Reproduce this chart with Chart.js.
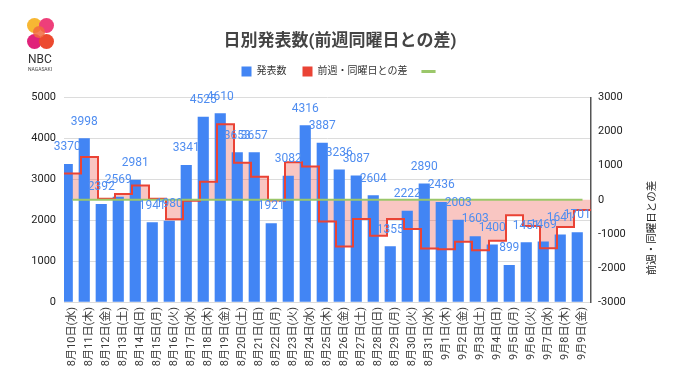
<!DOCTYPE html>
<html>
<head>
<meta charset="utf-8">
<script src="https://cdn.jsdelivr.net/npm/chart.js@4.4.1/dist/chart.umd.min.js"></script>
<style>
  html, body { margin: 0; padding: 0; background: #fff; }
  #wrap { position: relative; width: 680px; height: 382px; }
  canvas { position: absolute; left: 0; top: 0; }
  .logo { position: absolute; left: 25px; top: 17px; width: 30px; height: 58px; font-family: Roboto, "Liberation Sans", sans-serif; }
  .c { position: absolute; width: 15px; height: 15px; border-radius: 50%; }
  .logo .t1 { position: absolute; left: -1px; top: 36px; width: 32px; text-align: center; font-size: 12px; color: #333; line-height: 12px; }
  .logo .t2 { position: absolute; left: -3px; top: 49px; width: 36px; text-align: center; font-size: 5px; color: #444; line-height: 6px; }
</style>
</head>
<body>
<div id="wrap">
  <canvas id="chart" width="680" height="382"></canvas>
  <div class="logo">
    <div class="c" style="left:2px;top:1px;background:#f7b733;"></div>
    <div class="c" style="left:14px;top:1px;background:#ee3f7a;"></div>
    <div class="c" style="left:2px;top:17px;background:#e0237a;"></div>
    <div class="c" style="left:14px;top:17px;background:#ec4a2f;"></div>
    <div class="c" style="left:8px;top:9px;width:12px;height:12px;background:#f26a3d;opacity:0.85;"></div>
    <div class="t1">NBC</div>
    <div class="t2">NAGASAKI</div>
  </div>
</div>
<script>
const categories = ['8月10日(水)','8月11日(木)','8月12日(金)','8月13日(土)','8月14日(日)','8月15日(月)','8月16日(火)',
  '8月17日(水)','8月18日(木)','8月19日(金)','8月20日(土)','8月21日(日)','8月22日(月)','8月23日(火)',
  '8月24日(水)','8月25日(木)','8月26日(金)','8月27日(土)','8月28日(日)','8月29日(月)','8月30日(火)',
  '8月31日(水)','9月1日(木)','9月2日(金)','9月3日(土)','9月4日(日)','9月5日(月)','9月6日(火)',
  '9月7日(水)','9月8日(木)','9月9日(金)'];
const counts = [3370,3998,2392,2569,2981,1941,1980,3341,4525,4610,3653,3657,1921,3082,4316,3887,
  3236,3087,2604,1355,2222,2890,2436,2003,1603,1400,899,1451,1469,1641,1701];
const diffs = [770,1260,30,170,420,30,-570,-29,527,2218,1084,676,-20,1102,975,-638,
  -1374,-566,-1053,-566,-860,-1426,-1451,-1233,-1484,-1204,-456,-771,-1421,-795,-302];
const zeroLine = [0,0,0,0,0,0,0,0,0,0,0,0,0,0,0,0,0,0,0,0,0,0,0,0,0,0,0,0,0,0,0];
const leftTicks = [0,1000,2000,3000,4000,5000];
const rightTicks = [-3000,-2000,-1000,0,1000,2000,3000];

const seriesNames = ['発表数', '前週・同曜日との差'];
const titleText = '日別発表数(前週同曜日との差)';
const rightTitle = '前週・同曜日との差';

const BLUE = '#4285F4', RED = '#EA4335', GREEN = '#9BC76A';
const FONT = 'Roboto, "Noto Sans CJK JP", sans-serif';

// stepped line points (edges extend to the plot boundaries)
const diffPoints = [{x: -0.5, y: diffs[0]}]
  .concat(diffs.map((v, i) => ({x: i, y: v})))
  .concat([{x: diffs.length - 0.5, y: diffs[diffs.length - 1]}]);

const barLabels = {
  id: 'barLabels',
  afterDatasetsDraw(chart) {
    const ctx = chart.ctx;
    const meta = chart.getDatasetMeta(0);
    ctx.save();
    ctx.font = '12px ' + FONT;
    ctx.fillStyle = '#4F8DF0';
    ctx.textAlign = 'center';
    ctx.textBaseline = 'middle';
    meta.data.forEach((el, i) => {
      ctx.fillText(String(counts[i]), el.x, el.y - 17);
    });
    ctx.restore();
  }
};

const rightAxisTitle = {
  id: 'rightAxisTitle',
  afterDraw(chart) {
    const ctx = chart.ctx;
    ctx.save();
    ctx.translate(652, 228);
    ctx.rotate(-Math.PI / 2);
    ctx.font = '10.5px ' + FONT;
    ctx.fillStyle = '#222';
    ctx.textAlign = 'center';
    ctx.textBaseline = 'middle';
    ctx.fillText(rightTitle, 0, 0);
    ctx.restore();
  }
};

new Chart(document.getElementById('chart'), {
  type: 'bar',
  data: {
    labels: categories,
    datasets: [
      {
        type: 'bar', label: seriesNames[0], data: counts, backgroundColor: BLUE,
        yAxisID: 'y', xAxisID: 'x', order: 3,
        barThickness: 10.5
      },
      {
        // fill area only (drawn before the bars)
        type: 'line', label: 'fill', data: diffPoints, borderWidth: 0, borderColor: 'rgba(0,0,0,0)',
        backgroundColor: 'rgba(234,67,53,0.3)', fill: 'origin', stepped: 'middle',
        pointRadius: 0, yAxisID: 'y2', xAxisID: 'x2', order: 4
      },
      {
        type: 'line', label: seriesNames[1], data: diffPoints, borderColor: RED, borderWidth: 2,
        fill: false, stepped: 'middle',
        pointRadius: 0, yAxisID: 'y2', xAxisID: 'x2', order: 2
      },
      {
        type: 'line', label: '', data: zeroLine, borderColor: GREEN, borderWidth: 2,
        pointRadius: 0, fill: false, yAxisID: 'y2', xAxisID: 'x', order: 1
      }
    ]
  },
  options: {
    responsive: false,
    animation: false,
    layout: { padding: { left: 0, right: 0, top: 0, bottom: 0 } },
    plugins: {
      tooltip: { enabled: false },
      title: {
        display: true, text: titleText, color: '#444',
        font: { family: FONT, size: 17, weight: 'bold' },
        padding: { top: 32, bottom: -2 }
      },
      subtitle: {
        display: true, text: '', weight: 500,
        font: { size: 1 }, padding: { top: 10, bottom: 0 }
      },
      legend: {
        display: true,
        labels: {
          usePointStyle: true, boxHeight: 10, padding: 16,
          font: { family: FONT, size: 10 }, color: '#333',
          generateLabels() {
            return [
              { text: seriesNames[0], fillStyle: BLUE, strokeStyle: BLUE, lineWidth: 0, pointStyle: 'rect', hidden: false, datasetIndex: 0, fontColor: '#333' },
              { text: seriesNames[1], fillStyle: RED, strokeStyle: RED, lineWidth: 0, pointStyle: 'rect', hidden: false, datasetIndex: 2, fontColor: '#333' },
              { text: '', fillStyle: GREEN, strokeStyle: GREEN, lineWidth: 3, pointStyle: 'line', hidden: false, datasetIndex: 3, fontColor: '#333' }
            ];
          }
        }
      }
    },
    scales: {
      x: {
        type: 'category', offset: true,
        grid: { display: false, drawTicks: false },
        border: { display: false },
        ticks: { minRotation: 90, maxRotation: 90, autoSkip: false, padding: 5, color: '#3a3a3a', font: { family: FONT, size: 11 } },
        afterFit(s) { s.height = 80; }
      },
      x2: {
        type: 'linear', display: false, offset: false, min: -0.5, max: categories.length - 0.5
      },
      y: {
        position: 'left', min: 0, max: 5000,
        afterBuildTicks(s) { s.ticks = leftTicks.map(v => ({ value: v })); },
        grid: { color: '#dcdcdc', drawTicks: false },
        border: { display: false },
        ticks: { padding: 8, color: '#222', font: { family: FONT, size: 11 }, callback: v => String(v) },
        afterFit(s) { s.width = 64; }
      },
      y2: {
        position: 'right', min: -3000, max: 3000,
        afterBuildTicks(s) { s.ticks = rightTicks.map(v => ({ value: v })); },
        grid: { drawOnChartArea: false, drawTicks: false },
        border: { display: true, color: '#555', width: 1.5 },
        ticks: { padding: 7, color: '#222', font: { family: FONT, size: 11 }, callback: v => String(v) },
        afterFit(s) { s.width = 89; }
      }
    }
  },
  plugins: [barLabels, rightAxisTitle]
});
</script>
</body>
</html>
